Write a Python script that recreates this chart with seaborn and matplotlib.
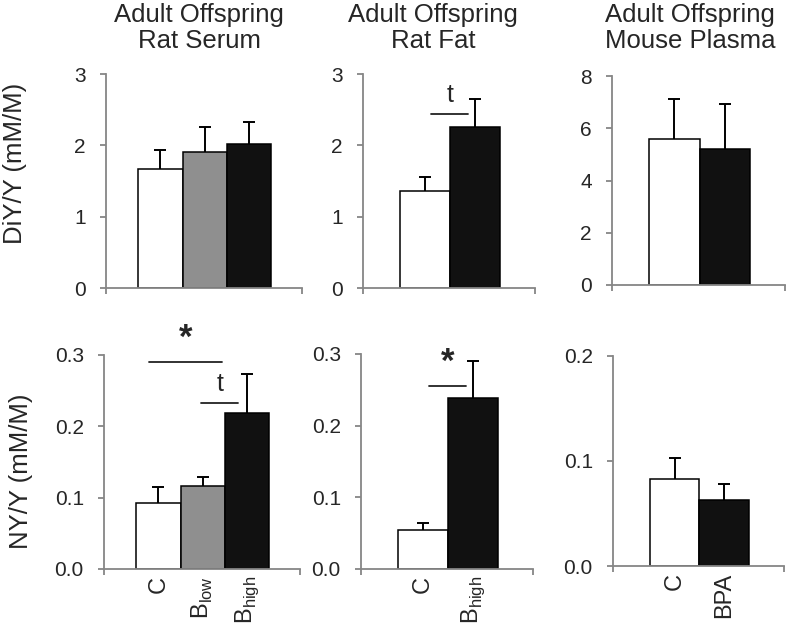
import numpy as np
import matplotlib
matplotlib.use("Agg")
import matplotlib.pyplot as plt
from matplotlib.ticker import FormatStrFormatter
import seaborn as sns

# groups
rat_groups = ["C", r"B$_{\mathregular{low}}$", r"B$_{\mathregular{high}}$"]
fat_groups = ["C", r"B$_{\mathregular{high}}$"]
mouse_groups = ["C", "BPA"]

# DiY/Y (mM/M), mean and SEM
serum_diy = [1.67, 1.91, 2.02]
serum_diy_sem = [0.26, 0.345, 0.31]
fat_diy = [1.36, 2.26]
fat_diy_sem = [0.195, 0.39]
mouse_diy = [5.59, 5.20]
mouse_diy_sem = [1.52, 1.72]

# NY/Y (mM/M), mean and SEM
serum_ny = [0.092, 0.116, 0.219]
serum_ny_sem = [0.023, 0.013, 0.0545]
fat_ny = [0.054, 0.239]
fat_ny_sem = [0.010, 0.051]
mouse_ny = [0.083, 0.063]
mouse_ny_sem = [0.0195, 0.015]

# significance marks: (from, to, height, label)
serum_ny_sig = [(-0.22, 1.44, 0.2906, "*"), (0.97, 1.80, 0.2325, "t")]
fat_diy_sig = [(0.125, 0.865, 2.437, "t")]
fat_ny_sig = [(0.125, 0.865, 0.256, "*")]

titles = ["Adult Offspring\nRat Serum", "Adult Offspring\nRat Fat",
          "Adult Offspring\nMouse Plasma"]

sns.set_style("white")
plt.rcParams["font.family"] = ["Liberation Sans", "DejaVu Sans"]

GREY_AX = "#868686"
rat_pal = ["white", "#8f8f8f", "#111111"]
two_pal = ["white", "#111111"]

W, H = 788, 626
fig = plt.figure(figsize=(W / 100, H / 100), dpi=100)


def rect(l, r, t, b):
    return [l / W, 1 - b / H, (r - l) / W, (b - t) / H]


def panel(box, groups, vals, sem, pal, yticks, fmt, xlim, sig=(), labels=False):
    ax = fig.add_axes(rect(*box))
    n = len(groups)
    sns.barplot(x=groups, y=vals, hue=groups, palette=pal, width=1,
                edgecolor="black", linewidth=1.1, legend=False, ax=ax, zorder=2)
    eb = ax.errorbar(np.arange(n), vals, yerr=[np.zeros(n), sem], fmt="none",
                     ecolor="black", elinewidth=1.4, capsize=4.5, capthick=1.4,
                     zorder=3)
    # only the upper caps are wanted
    for cap in eb[1]:
        if np.allclose(cap.get_ydata(), vals):
            cap.set_visible(False)
    for x0, x1, y, lab in sig:
        ax.plot([x0, x1], [y, y], color="#222222", lw=1.3, clip_on=False)
        if lab == "*":
            ax.annotate(lab, xy=((x0 + x1) / 2, y), xytext=(0, 16.5),
                        textcoords="offset points", ha="center", va="center",
                        fontsize=25, fontweight="bold", annotation_clip=False)
        else:
            ax.annotate(lab, xy=((x0 + x1) / 2, y), xytext=(0, 14),
                        textcoords="offset points", ha="center", va="center",
                        fontsize=18, annotation_clip=False)
    ax.set_ylim(yticks[0], yticks[-1])
    ax.set_yticks(yticks)
    ax.yaxis.set_major_formatter(FormatStrFormatter(fmt))
    ax.set_xlim(*xlim)
    ax.set_xticks(xlim, minor=True)
    sns.despine(ax=ax)
    for s in ["left", "bottom"]:
        ax.spines[s].set_color(GREY_AX)
        ax.spines[s].set_linewidth(1.3)
    ax.tick_params(axis="y", left=True, direction="out", length=4.5, width=1.3,
                   color=GREY_AX, labelsize=15, pad=10)
    ax.tick_params(axis="x", which="minor", bottom=True, direction="out",
                   length=4.5, width=1.3, color=GREY_AX)
    ax.tick_params(axis="x", which="major", length=0, labelsize=17, pad=5,
                   labelrotation=90)
    if not labels:
        ax.set_xticklabels([])
    ax.set_xlabel("")
    ax.set_ylabel("")
    return ax


x3 = (-1.23, 3.2)
x2 = (-1.24, 2.2)

panel((106, 302, 74, 288), rat_groups, serum_diy, serum_diy_sem, rat_pal,
      [0, 1, 2, 3], "%d", x3)
panel((363, 535, 74, 288), fat_groups, fat_diy, fat_diy_sem, two_pal,
      [0, 1, 2, 3], "%d", x2, sig=fat_diy_sig)
panel((612, 785, 76, 285), mouse_groups, mouse_diy, mouse_diy_sem, two_pal,
      [0, 2, 4, 6, 8], "%d", x2)

panel((104, 300, 355, 569), rat_groups, serum_ny, serum_ny_sem, rat_pal,
      [0, 0.1, 0.2, 0.3], "%.1f", x3, sig=serum_ny_sig, labels=True)
panel((361, 533, 354, 569), fat_groups, fat_ny, fat_ny_sem, two_pal,
      [0, 0.1, 0.2, 0.3], "%.1f", x2, sig=fat_ny_sig, labels=True)
panel((613, 784, 356, 566), mouse_groups, mouse_ny, mouse_ny_sem, two_pal,
      [0, 0.1, 0.2], "%.1f", x2, labels=True)

for cx, t in zip([199, 433, 690], titles):
    fig.text(cx / W, 1 - 28 / H, t, ha="center", va="center", fontsize=18.5,
             linespacing=1.1)

fig.text(15 / W, 1 - 163 / H, "DiY/Y (mM/M)", rotation=90, ha="center",
         va="center", fontsize=18.5)
fig.text(21 / W, 1 - 471 / H, "NY/Y (mM/M)", rotation=90, ha="center",
         va="center", fontsize=18.5)

fig.savefig("out.png", dpi=100)
